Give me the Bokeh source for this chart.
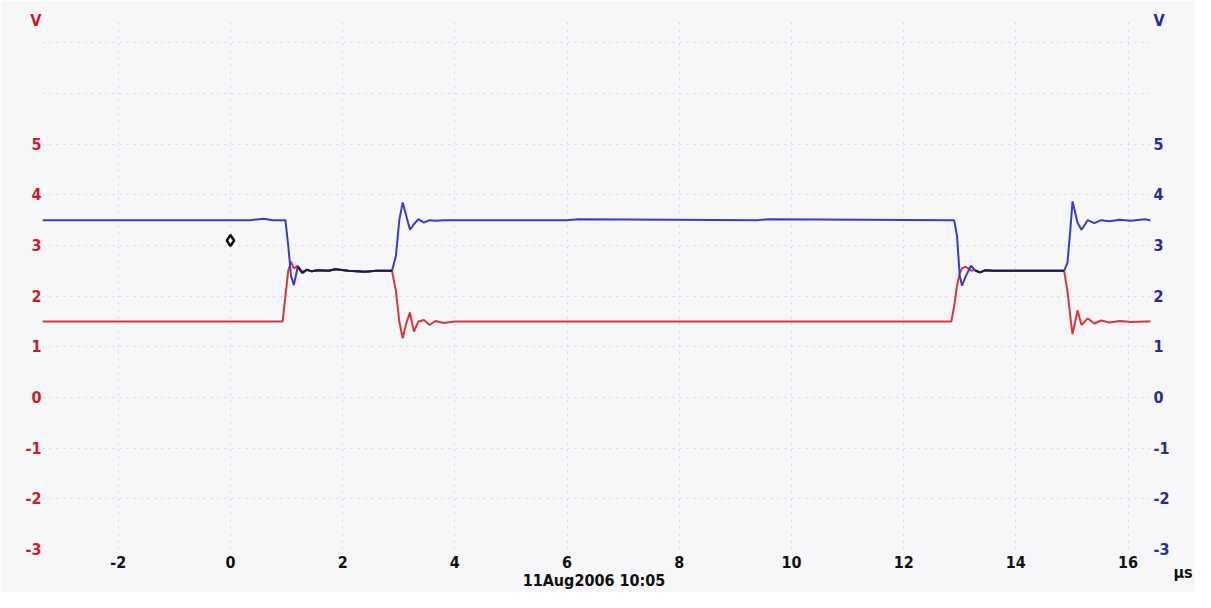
import numpy as np
from bokeh.plotting import figure
from bokeh.models import Range1d, LinearAxis, FixedTicker
from bokeh.embed import file_html
from bokeh.resources import INLINE

# ---- data ------------------------------------------------------------
time_us = [-3.35, 0.35, 0.59, 0.75, 0.93, 0.98, 1.03, 1.08, 1.13, 1.2, 1.28, 1.36,
           1.45, 1.55, 1.75, 1.87, 2.1, 2.4, 2.6, 2.88, 2.95, 3.01, 3.07, 3.13,
           3.2, 3.27, 3.35, 3.45, 3.55, 3.65, 3.8, 4.0, 6.0, 6.2, 9.4, 9.6, 12.85,
           12.9, 12.95, 13.0, 13.04, 13.11, 13.2, 13.28, 13.36, 13.45, 13.6, 14.86,
           14.92, 14.97, 15.01, 15.1, 15.17, 15.28, 15.4, 15.52, 15.67, 15.85,
           16.05, 16.3, 16.47]
channel_a_v = [1.5, 1.5, 1.5, 1.5, 1.5, 2.0, 2.5, 2.68, 2.55, 2.6, 2.48, 2.52,
               2.49, 2.51, 2.5, 2.53, 2.5, 2.48, 2.5, 2.5, 2.1, 1.5, 1.17, 1.45,
               1.68, 1.3, 1.5, 1.53, 1.43, 1.51, 1.47, 1.5, 1.5, 1.5, 1.5, 1.5, 1.5,
               1.8, 2.2, 2.45, 2.55, 2.58, 2.5, 2.52, 2.47, 2.51, 2.5, 2.5,
               2.1, 1.6, 1.25, 1.72, 1.43, 1.56, 1.46, 1.52, 1.48, 1.51,
               1.49, 1.5, 1.5]
channel_b_v = [3.5, 3.5, 3.53, 3.5, 3.5, 3.5, 3.0, 2.4, 2.22, 2.58, 2.46, 2.52,
               2.49, 2.51, 2.5, 2.53, 2.5, 2.48, 2.5, 2.5, 2.8, 3.5, 3.85, 3.6,
               3.31, 3.42, 3.52, 3.45, 3.5, 3.49, 3.5, 3.5, 3.5, 3.52, 3.5, 3.52, 3.5,
               3.5, 3.2, 2.4, 2.21, 2.4, 2.6, 2.5, 2.47, 2.51, 2.5, 2.5,
               2.66, 3.3, 3.87, 3.45, 3.31, 3.5, 3.44, 3.5, 3.48, 3.51,
               3.49, 3.52, 3.48]
trigger_time = [0.0]
trigger_level = [3.1]

x_ticks = [-2, 0, 2, 4, 6, 8, 10, 12, 14, 16]
y_ticks = [-3, -2, -1, 0, 1, 2, 3, 4, 5]
y_unit_pos = 7.45
y_unit = "V"
x_unit = "µs"
date_text = "11Aug2006  10:05"

# ---- styling -----------------------------------------------------------
BG = "#f7f6f9"
RED = "#d23a3a"
BLUE = "#3c3cc8"
RED_TXT = "#c81e2a"
BLUE_TXT = "#2a2a98"
FONT = "DejaVu Sans Condensed"
FSIZE = "16px"


def labels_for(ticks):
    out = {}
    for v in ticks:
        out[v] = ("-" + str(abs(v))) if v < 0 else str(v)
    return out


p = figure(width=1195, height=592, output_backend="svg", toolbar_location=None,
           x_range=Range1d(-3.35, 16.40), y_range=Range1d(-3, 7.5),
           background_fill_color=BG, border_fill_color=BG,
           min_border_left=42, min_border_right=37, min_border_top=17,
           min_border_bottom=42, outline_line_color=None)
p.extra_y_ranges = {"unit": Range1d(0, 1)}

# grid
p.xgrid.ticker = FixedTicker(ticks=x_ticks)
p.ygrid.ticker = FixedTicker(ticks=list(range(-3, 8)))
for g in (p.xgrid, p.ygrid):
    g.grid_line_color = "#d6d6dc"
    g.grid_line_dash = "2 5"
    g.grid_line_width = 1


def style_axis(ax, color):
    ax.axis_line_color = None
    ax.major_tick_line_color = None
    ax.minor_tick_line_color = None
    ax.major_tick_out = 0
    ax.major_tick_in = 0
    ax.minor_tick_out = 0
    ax.major_label_text_font = FONT
    ax.major_label_text_font_style = "bold"
    ax.major_label_text_font_size = FSIZE
    ax.major_label_text_color = color


ylab = labels_for(y_ticks)
ylab[y_unit_pos] = y_unit

# left axis (channel A, red)
yl = p.yaxis[0]
yl.ticker = FixedTicker(ticks=y_ticks + [y_unit_pos])
yl.major_label_overrides = dict(ylab)
style_axis(yl, RED_TXT)
yl.major_label_standoff = 1

# right axis (channel B, blue)
yr = LinearAxis(ticker=FixedTicker(ticks=y_ticks + [y_unit_pos]))
yr.major_label_overrides = dict(ylab)
style_axis(yr, BLUE_TXT)
yr.major_label_standoff = 3
p.add_layout(yr, "right")

# time unit, placed at the bottom-right corner
yu = LinearAxis(y_range_name="unit", ticker=FixedTicker(ticks=[0]))
yu.major_label_overrides = {0: "\n\n" + x_unit}
style_axis(yu, "#111111")
yu.major_label_standoff = 1
yu.major_label_text_baseline = "top"
p.add_layout(yu, "right")

# bottom axis
xa = p.xaxis[0]
xa.ticker = FixedTicker(ticks=x_ticks)
xa.major_label_overrides = labels_for(x_ticks)
style_axis(xa, "#111111")
xa.major_label_standoff = 6
xa.axis_label = date_text
xa.axis_label_text_font = FONT
xa.axis_label_text_font_style = "bold"
xa.axis_label_text_font_size = FSIZE
xa.axis_label_text_color = "#111111"
xa.axis_label_standoff = 0

# traces
t = np.array(time_us)
a = np.array(channel_a_v)
b = np.array(channel_b_v)
p.line(t, a, line_color=RED, line_width=2)
p.line(t, b, line_color=BLUE, line_width=2)
overlap = np.where(np.abs(a - b) < 0.04, b, np.nan)
p.line(t, overlap, line_color="#1e1e44", line_width=2)

# trigger marker
p.scatter(trigger_time, trigger_level, marker="diamond", size=11,
          fill_color="white", line_color="#111111", line_width=2.5)

open("out.html", "w").write(file_html(p, INLINE))
